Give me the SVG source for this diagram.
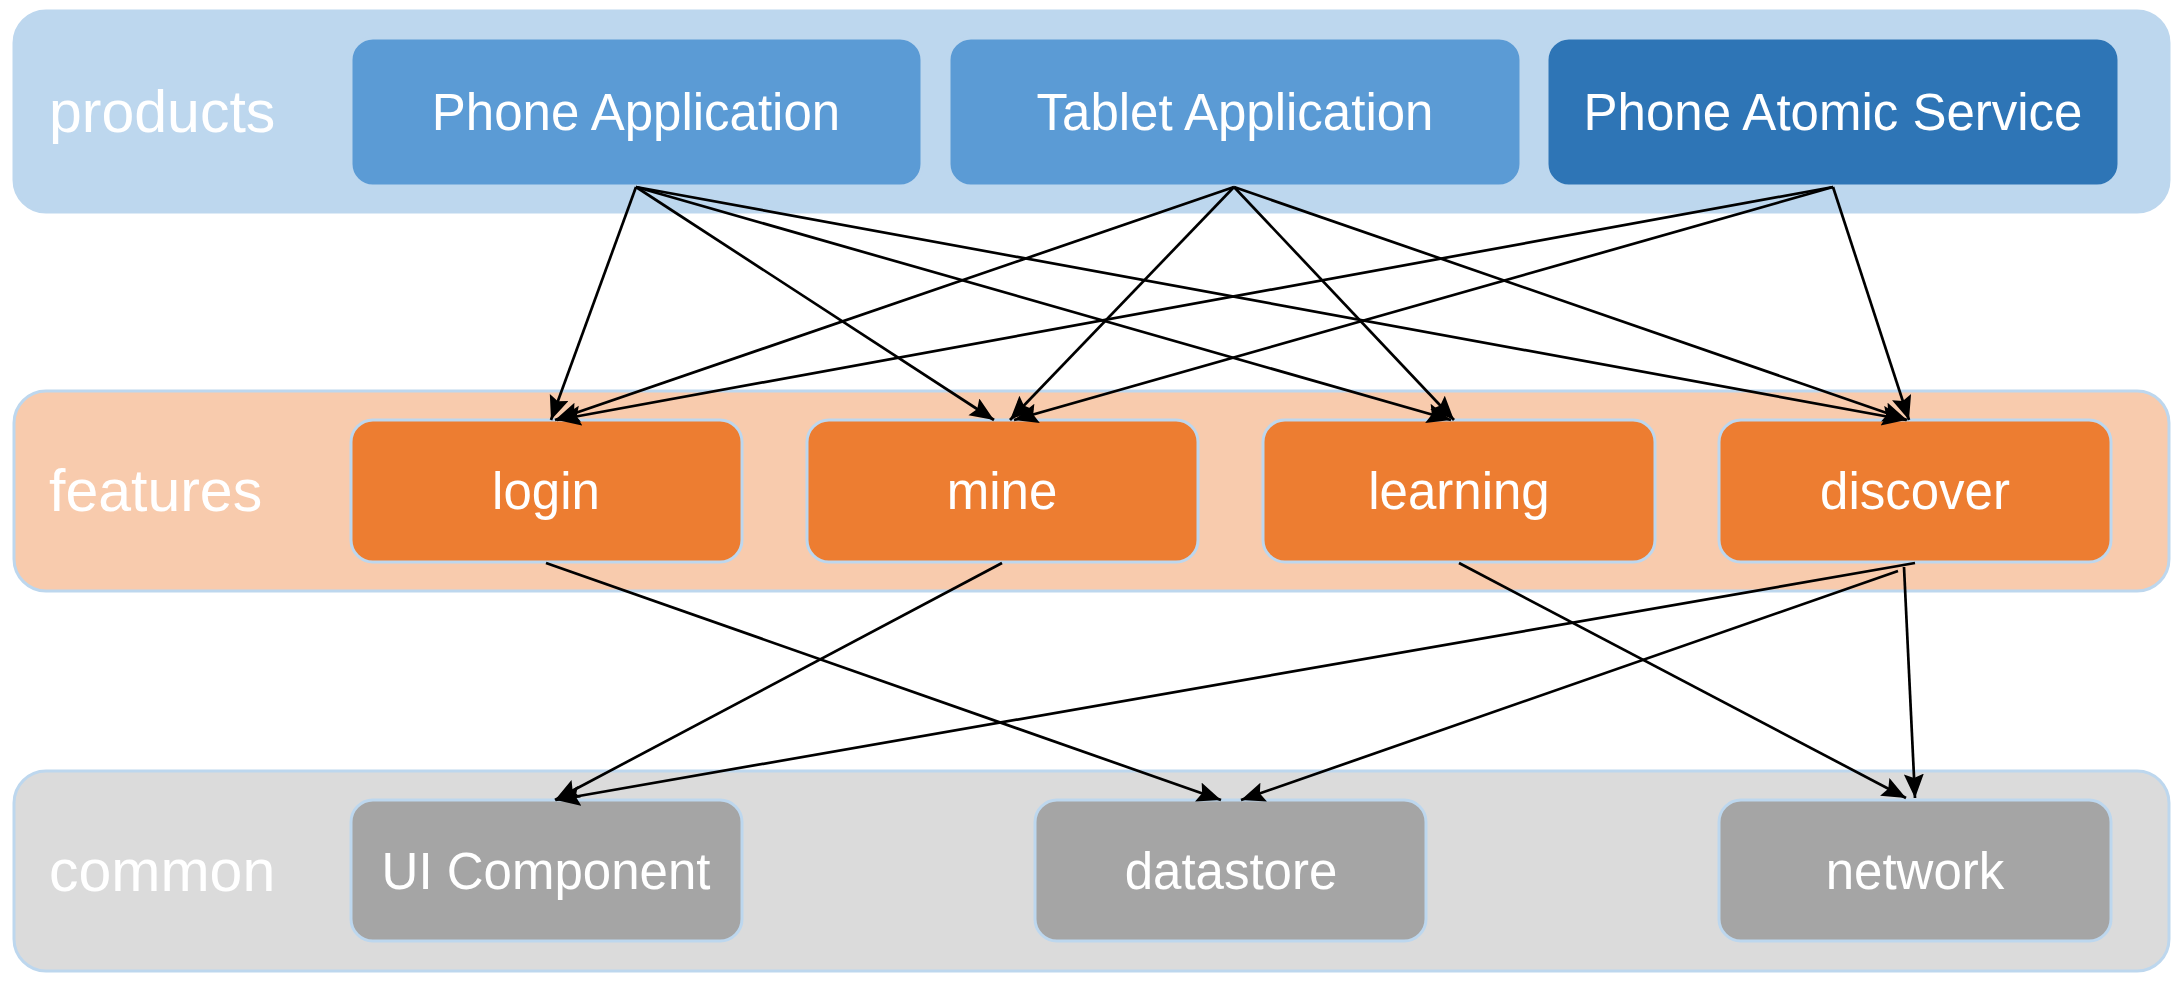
<svg xmlns="http://www.w3.org/2000/svg" width="2182" height="982" viewBox="0 0 2182 982">
<style>
.band{stroke:#BDD7EE;stroke-width:3}
.box{stroke:#BDD7EE;stroke-width:3}
.lbl{font-family:"Liberation Sans",Arial,sans-serif;font-size:59px;fill:#FFFFFF}
.txt{font-family:"Liberation Sans",Arial,sans-serif;font-size:51px;fill:#FFFFFF;text-anchor:middle}
.edge{stroke:#000000;stroke-width:2.7;fill:none;marker-end:url(#arr)}
</style>
<defs>
<marker id="arr" markerUnits="userSpaceOnUse" markerWidth="26" markerHeight="22" refX="24" refY="10" orient="auto">
<path d="M0,0 L24,10 L0,20 L4,10 z" fill="#000000"/>
</marker>
</defs>
<rect width="2182" height="982" fill="#FFFFFF"/>
<g id="band-products">
<rect class="band" x="14" y="11" width="2155" height="201" rx="32" fill="#BDD7EE"/>
<text class="lbl" x="49" y="132">products</text>
</g>
<g id="band-features">
<rect class="band" x="14" y="391" width="2155" height="200" rx="32" fill="#F8CBAD"/>
<text class="lbl" x="49" y="511">features</text>
</g>
<g id="band-common">
<rect class="band" x="14" y="771" width="2155" height="200" rx="32" fill="#DBDBDB"/>
<text class="lbl" x="49" y="891">common</text>
</g>
<g id="phone-application">
<rect class="box" x="351" y="38" width="571" height="148" rx="22" fill="#5B9BD5"/>
<text class="txt" x="636" y="130">Phone Application</text>
</g>
<g id="tablet-application">
<rect class="box" x="949" y="38" width="572" height="148" rx="22" fill="#5B9BD5"/>
<text class="txt" x="1235" y="130">Tablet Application</text>
</g>
<g id="phone-atomic-service">
<rect class="box" x="1547" y="38" width="572" height="148" rx="22" fill="#2E75B6"/>
<text class="txt" x="1833" y="130">Phone Atomic Service</text>
</g>
<g id="login">
<rect class="box" x="351" y="420" width="391" height="142" rx="22" fill="#ED7D31"/>
<text class="txt" x="546" y="509">login</text>
</g>
<g id="mine">
<rect class="box" x="807" y="420" width="391" height="142" rx="22" fill="#ED7D31"/>
<text class="txt" x="1002" y="509">mine</text>
</g>
<g id="learning">
<rect class="box" x="1263" y="420" width="392" height="142" rx="22" fill="#ED7D31"/>
<text class="txt" x="1459" y="509">learning</text>
</g>
<g id="discover">
<rect class="box" x="1719" y="420" width="392" height="142" rx="22" fill="#ED7D31"/>
<text class="txt" x="1915" y="509">discover</text>
</g>
<g id="ui-component">
<rect class="box" x="351" y="800" width="391" height="141" rx="22" fill="#A5A5A5"/>
<text class="txt" x="546" y="889">UI Component</text>
</g>
<g id="datastore">
<rect class="box" x="1035" y="800" width="391" height="141" rx="22" fill="#A5A5A5"/>
<text class="txt" x="1231" y="889">datastore</text>
</g>
<g id="network">
<rect class="box" x="1719" y="800" width="392" height="141" rx="22" fill="#A5A5A5"/>
<text class="txt" x="1915" y="889">network</text>
</g>
<g id="connectors">
<path class="edge" d="M636,187 L551,420"/>
<path class="edge" d="M1234,187 L555,420"/>
<path class="edge" d="M1833,187 L557,420"/>
<path class="edge" d="M636,187 L994,420"/>
<path class="edge" d="M1234,187 L1010,420"/>
<path class="edge" d="M1833,187 L1014,420"/>
<path class="edge" d="M636,187 L1451,420"/>
<path class="edge" d="M1234,187 L1454,420"/>
<path class="edge" d="M636,187 L1906,420"/>
<path class="edge" d="M1234,187 L1907,420"/>
<path class="edge" d="M1833,187 L1909,420"/>
<path class="edge" d="M546,563 L1221,800"/>
<path class="edge" d="M1002,563 L555,800"/>
<path class="edge" d="M1459,563 L1906,798"/>
<path class="edge" d="M1915,563 L556,800"/>
<path class="edge" d="M1898,571 L1241,800"/>
<path class="edge" d="M1904,567 L1915,798"/>
</g>
</svg>
